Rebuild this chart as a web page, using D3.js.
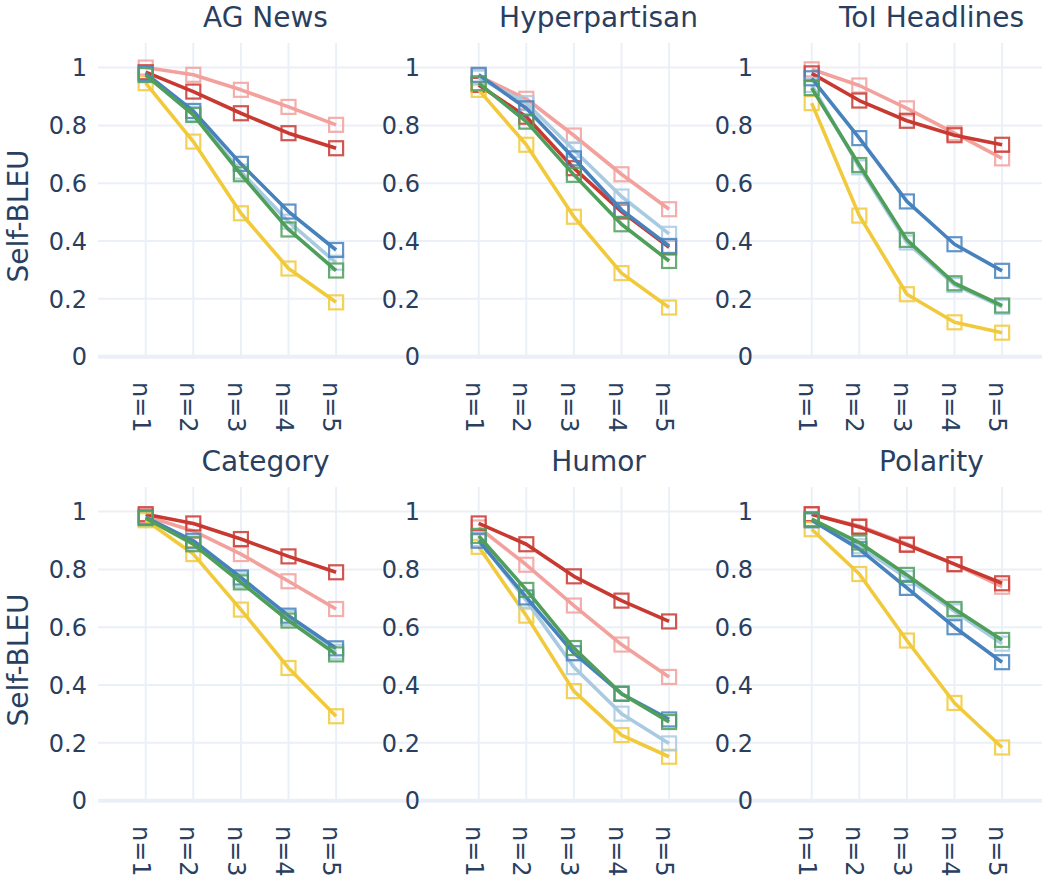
<!DOCTYPE html>
<html>
<head>
<meta charset="utf-8">
<script src="https://cdn.jsdelivr.net/npm/d3@7"></script>
<style>
  body { margin: 0; background: #fff; }
  svg { display: block; }
</style>
</head>
<body>
<svg id="chart" width="1042" height="888"></svg>
<script>
// categories + tick labels
let nGrams = ["n=1", "n=2", "n=3", "n=4", "n=5"];
let yTicks = [0, 0.2, 0.4, 0.6, 0.8, 1];
let panelTitles = ["AG News", "Hyperpartisan", "ToI Headlines", "Category", "Humor", "Polarity"];

// series, in drawing order
let seriesKeys = ["pink", "red", "yellow", "lightBlue", "blue", "green"];
let seriesColors = {
    pink: "#f2a19d",
    red: "#c83a31",
    yellow: "#f1ca3c",
    lightBlue: "#a8cbe2",
    blue: "#4782bd",
    green: "#4f9f5a"
};

// Self-BLEU values per panel, one array per series
let agNews = {
    pink: [1.0, 0.975, 0.923, 0.864, 0.802],
    red: [0.984, 0.917, 0.842, 0.773, 0.721],
    yellow: [0.946, 0.744, 0.496, 0.305, 0.188],
    lightBlue: [0.975, 0.84, 0.64, 0.467, 0.325],
    blue: [0.98, 0.85, 0.667, 0.502, 0.369],
    green: [0.974, 0.836, 0.631, 0.44, 0.298]
};
let hyperpartisan = {
    pink: [0.97, 0.892, 0.765, 0.631, 0.51],
    red: [0.94, 0.83, 0.652, 0.502, 0.378],
    yellow: [0.923, 0.733, 0.484, 0.289, 0.17],
    lightBlue: [0.965, 0.877, 0.715, 0.554, 0.425],
    blue: [0.975, 0.859, 0.686, 0.508, 0.383],
    green: [0.946, 0.813, 0.629, 0.458, 0.331]
};
let toiHeadlines = {
    pink: [0.994, 0.938, 0.859, 0.773, 0.686],
    red: [0.98, 0.886, 0.816, 0.766, 0.733],
    yellow: [0.877, 0.488, 0.216, 0.119, 0.083],
    lightBlue: [0.94, 0.655, 0.395, 0.248, 0.172],
    blue: [0.963, 0.756, 0.537, 0.389, 0.297],
    green: [0.929, 0.663, 0.404, 0.254, 0.177]
};
let category = {
    pink: [0.985, 0.933, 0.853, 0.759, 0.663],
    red: [0.991, 0.959, 0.905, 0.845, 0.79],
    yellow: [0.97, 0.853, 0.661, 0.459, 0.292],
    lightBlue: [0.978, 0.89, 0.762, 0.632, 0.515],
    blue: [0.98, 0.899, 0.772, 0.64, 0.527],
    green: [0.977, 0.887, 0.755, 0.623, 0.506]
};
let humor = {
    pink: [0.945, 0.816, 0.675, 0.54, 0.428],
    red: [0.959, 0.887, 0.776, 0.692, 0.62],
    yellow: [0.878, 0.64, 0.379, 0.227, 0.152],
    lightBlue: [0.905, 0.692, 0.462, 0.301, 0.198],
    blue: [0.899, 0.703, 0.51, 0.37, 0.281],
    green: [0.916, 0.729, 0.528, 0.37, 0.272]
};
let polarity = {
    pink: [0.99, 0.95, 0.888, 0.818, 0.74],
    red: [0.991, 0.947, 0.885, 0.818, 0.752],
    yellow: [0.939, 0.784, 0.554, 0.338, 0.184],
    lightBlue: [0.97, 0.88, 0.77, 0.655, 0.543],
    blue: [0.97, 0.87, 0.736, 0.6, 0.479],
    green: [0.974, 0.893, 0.781, 0.663, 0.556]
};
let panelData = [agNews, hyperpartisan, toiHeadlines, category, humor, polarity];

// layout
let chartWidth = 1042;
let panelLefts = [98, 431, 764];
let panelStep = 333;
let rowTops = [43, 487];
let plotHeight = 316;
let textColor = "#2a3f5f";
let gridColor = "#ebf0f8";
let fontFamily = "Verdana, 'DejaVu Sans', sans-serif";

let svg = d3.select("#chart");

/**
 *   idx: panel index 0..5
 *   draws one subplot: grid, axes labels, lines + open square markers
 */
function drawPanel(idx) {
    let col = idx % 3;
    let row = Math.floor(idx / 3);
    let left = panelLefts[col];
    let top = rowTops[row];
    let bottom = top + plotHeight;
    let gridRight = Math.min(left + panelStep, chartWidth);
    let data = panelData[idx];

    let xScale = d3.scalePoint()
        .domain(nGrams)
        .range([left + 47.7, left + 238.1]);

    let yScale = d3.scaleLinear()
        .domain([-0.008, 1.085])
        .range([bottom, top]);

    let g = svg.append("g").attr("class", "panel" + idx);

    // vertical grid
    g.selectAll(".vgrid")
        .data(nGrams)
        .enter()
        .append("line")
        .attr("x1", d => xScale(d))
        .attr("x2", d => xScale(d))
        .attr("y1", top)
        .attr("y2", bottom)
        .attr("stroke", gridColor)
        .attr("stroke-width", 2);

    // horizontal grid
    g.selectAll(".hgrid")
        .data(yTicks.filter(d => d > 0))
        .enter()
        .append("line")
        .attr("x1", left)
        .attr("x2", gridRight)
        .attr("y1", d => yScale(d))
        .attr("y2", d => yScale(d))
        .attr("stroke", gridColor)
        .attr("stroke-width", 2);

    // zero line
    g.append("line")
        .attr("x1", left)
        .attr("x2", gridRight)
        .attr("y1", yScale(0))
        .attr("y2", yScale(0))
        .attr("stroke", gridColor)
        .attr("stroke-width", 4);

    // lines + markers
    let line = d3.line()
        .x((d, i) => xScale(nGrams[i]))
        .y(d => yScale(d));

    seriesKeys.forEach(function(key) {
        let values = data[key];
        g.append("path")
            .datum(values)
            .attr("d", line)
            .attr("fill", "none")
            .attr("stroke", seriesColors[key])
            .attr("stroke-width", 3.6)
            .style("stroke-linejoin", "round");
        g.selectAll(".marker-" + key)
            .data(values)
            .enter()
            .append("rect")
            .attr("x", (d, i) => xScale(nGrams[i]) - 7)
            .attr("y", d => yScale(d) - 7)
            .attr("width", 14)
            .attr("height", 14)
            .attr("fill", "none")
            .attr("stroke", seriesColors[key])
            .attr("stroke-width", 2.2)
            .style("opacity", 0.85);
    });

    // y tick labels
    g.selectAll(".ytick")
        .data(yTicks)
        .enter()
        .append("text")
        .attr("x", left - 11)
        .attr("y", d => yScale(d))
        .attr("dy", "0.36em")
        .text(d => d3.format("~g")(d))
        .style("font-family", fontFamily)
        .style("font-size", "24px")
        .style("text-anchor", "end")
        .style("fill", textColor);

    // x tick labels, rotated
    g.selectAll(".xtick")
        .data(nGrams)
        .enter()
        .append("text")
        .attr("transform", d => "translate(" + (xScale(d) - 13) + "," + (bottom + 23) + ") rotate(90)")
        .text(d => d)
        .style("font-family", fontFamily)
        .style("font-size", "24px")
        .style("text-anchor", "start")
        .style("fill", textColor);

    // title
    g.append("text")
        .attr("x", left + 167.5)
        .attr("y", top - 16)
        .text(panelTitles[idx])
        .style("font-family", fontFamily)
        .style("font-size", "28px")
        .style("text-anchor", "middle")
        .style("fill", textColor);

    // y axis title on first column
    if (col === 0) {
        g.append("text")
            .attr("transform", "translate(28," + (top + 173) + ") rotate(-90)")
            .text("Self-BLEU")
            .style("font-family", fontFamily)
            .style("font-size", "28px")
            .style("text-anchor", "middle")
            .style("fill", textColor);
    }
}

for (let i = 0; i < panelData.length; i++) {
    drawPanel(i);
}
</script>
</body>
</html>
